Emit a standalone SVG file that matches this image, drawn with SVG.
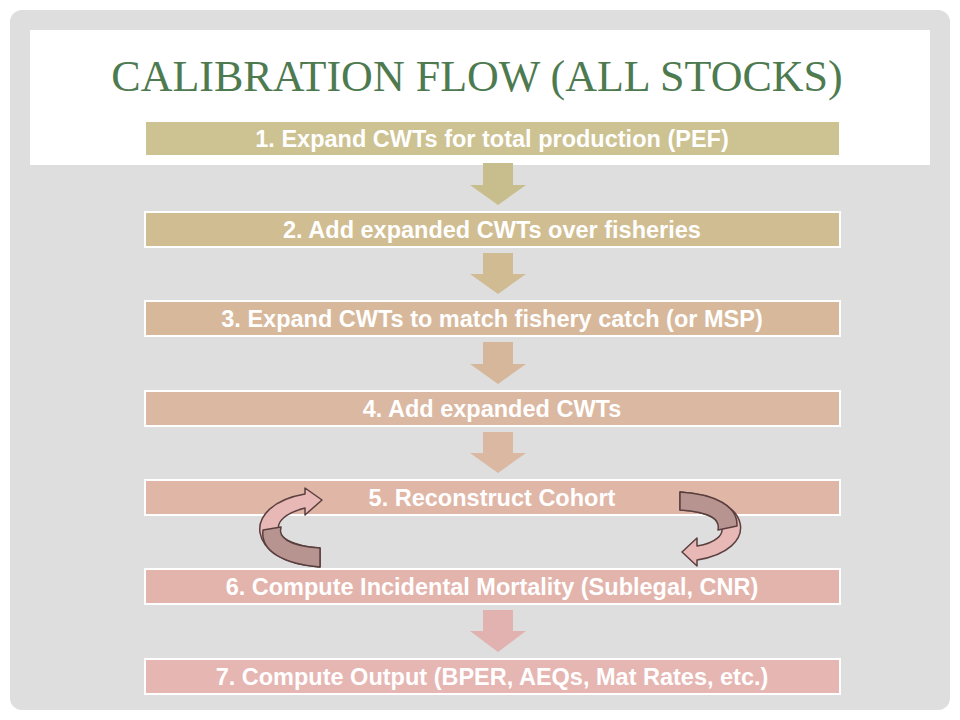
<svg xmlns="http://www.w3.org/2000/svg" width="960" height="720" viewBox="0 0 960 720">
<style>
.box{stroke:#fff;stroke-width:2}
.t{font-family:"Liberation Sans",Arial,sans-serif;font-weight:bold;font-size:23.5px;fill:#fff;text-anchor:middle}
.curve{stroke:#5a3f3f;stroke-width:1.5;stroke-linejoin:round}
</style>
<rect width="960" height="720" fill="#fff"/>
<rect x="10" y="10" width="940" height="700" rx="12" fill="#dedede"/>
<rect x="30" y="30" width="900" height="135" fill="#fff"/>
<text x="477" y="91" font-family="Liberation Serif,serif" font-size="44" fill="#4e7a50" text-anchor="middle">CALIBRATION FLOW (ALL STOCKS)</text>
<g id="connectors">
<polygon points="483,163 513,163 513,185 526,185 498,205 470,185 483,185" fill="#c8bd8c"/>
<polygon points="483,253 513,253 513,274 526,274 498,294 470,274 483,274" fill="#d0bb92"/>
<polygon points="483,342 513,342 513,364 526,364 498,384 470,364 483,364" fill="#d6b79b"/>
<polygon points="483,432 513,432 513,453 526,453 498,473 470,453 483,453" fill="#dab8a2"/>
<polygon points="483,610 513,610 513,631 526,631 498,652 470,631 483,631" fill="#e2b2b0"/>
</g>
<g id="n1"><rect x="146" y="122" width="693" height="33" fill="#cdc292"/><text class="t" x="492" y="147">1. Expand CWTs for total production (PEF)</text></g>
<g id="n2"><rect class="box" x="145" y="212" width="695" height="35" fill="#d1bd92"/><text class="t" x="492" y="238">2. Add expanded CWTs over fisheries</text></g>
<g id="n3"><rect class="box" x="145" y="301" width="695" height="35" fill="#d7b89b"/><text class="t" x="492" y="327">3. Expand CWTs to match fishery catch (or MSP)</text></g>
<g id="n4"><rect class="box" x="145" y="391" width="695" height="35" fill="#dbb8a1"/><text class="t" x="492" y="417">4. Add expanded CWTs</text></g>
<g id="n5"><rect class="box" x="145" y="480" width="695" height="35" fill="#e0b6a7"/><text class="t" x="492" y="506">5. Reconstruct Cohort</text></g>
<g id="n6"><rect class="box" x="145" y="569" width="695" height="35" fill="#e3b4ac"/><text class="t" x="492" y="595">6. Compute Incidental Mortality (Sublegal, CNR)</text></g>
<g id="n7"><rect class="box" x="145" y="659" width="695" height="35" fill="#e6b6b3"/><text class="t" x="492" y="685">7. Compute Output (BPER, AEQs, Mat Rates, etc.)</text></g>
<g id="loop-connectors">
<path class="curve" fill="#e8b8b6" d="M320,567 C245,562 240,505 305,494 L305,488 L322,500 L305,515 L305,508 C265,518 270,545 320,548 Z"/>
<path class="curve" fill="#b89490" d="M320,567 L320,548 C288,546 278,537 281,527 L263,530 C260,552 285,564 320,567 Z"/>
<path class="curve" fill="#e8b8b6" d="M680,492 C755,497 760,550 697,560 L697,566 L682,552 L697,538 L697,546 C735,540 730,512 680,510 Z"/>
<path class="curve" fill="#b89490" d="M680,492 L680,510 C712,512 720,520 718,530 L737,526 C738,506 715,494 680,492 Z"/>
</g>
</svg>
